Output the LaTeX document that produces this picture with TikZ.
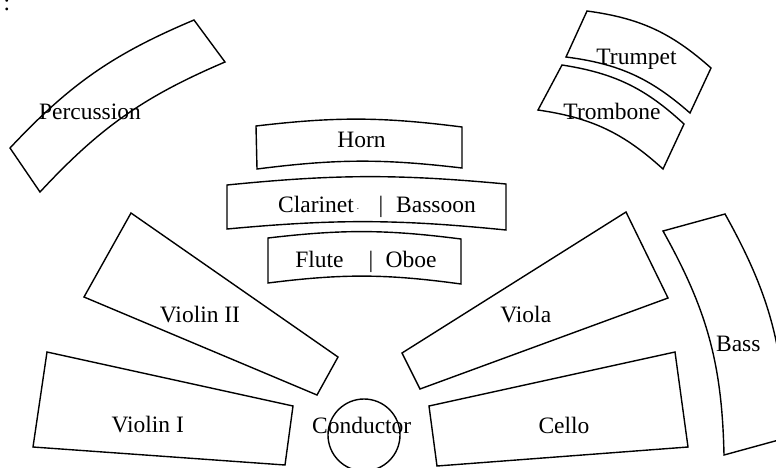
\documentclass[tikz,border=0pt]{standalone}
\usepackage{fontspec}
\setmainfont{Liberation Serif}
\begin{document}
\begin{tikzpicture}[x=1pt,y=1pt,
  band/.style={draw=black,line width=1.4pt,line join=miter},
  lbl/.style={font=\fontsize{23.5}{28}\selectfont,inner sep=0pt,anchor=base}]
\useasboundingbox (0,0) rectangle (776,-467);
\clip (0,0) rectangle (776,-467);

% stray colon in the corner
\node[lbl,anchor=base west] (colon) at (3.4,-10.5) {:};

% percussion band, upper left
\draw[band] (10,-148) to[bend left=12] (194,-20) -- (225,-62)
  to[bend right=12] (40,-192) -- cycle;
\node[lbl] (perc) at (90,-119.3) {Percussion};

% brass, upper right
\draw[band] (587,-11) to[bend left=17] (711,-68) -- (690,-113)
  to[bend right=17] (566,-57) -- cycle;
\node[lbl] (trumpet) at (636.5,-64) {Trumpet};
\draw[band] (562,-65) to[bend left=17] (684,-124) -- (663,-169)
  to[bend right=17] (538,-110) -- cycle;
\node[lbl] (trombone) at (612,-119.3) {Trombone};

% woodwinds and horns, centre rows
\draw[band] (256,-126) to[bend left=7] (462,-127) -- (462,-168)
  to[bend right=7] (257,-169) -- cycle;
\node[lbl] (horn) at (361.5,-147.7) {Horn};

\draw[band] (227,-185) to[bend left=5.5] (506,-184) -- (506,-230)
  to[bend right=5.5] (227,-229) -- cycle;
\node[lbl,anchor=base west] (clarinet) at (278,-212.7)
  {Clarinet\hspace{3pt}\raisebox{3pt}{\fontsize{9}{9}\selectfont .}};
\node[lbl] (cbbar) at (381,-212.7) {|};
\node[lbl] (bassoon) at (436,-212.7) {Bassoon};

\draw[band] (268,-238) to[bend left=7] (461,-239) -- (461,-284)
  to[bend right=7.5] (268,-283) -- cycle;
\node[lbl] (flute) at (319.5,-267.7) {Flute};
\node[lbl] (fobar) at (371,-267.7) {|};
\node[lbl] (oboe) at (411,-267.7) {Oboe};

% strings
\draw[band] (131,-213) -- (338,-357) -- (317,-395) -- (84,-297) -- cycle;
\node[lbl] (violin2) at (200,-322.7) {Violin II};

\draw[band] (47,-352) -- (293,-406) -- (285,-465) -- (33,-447) -- cycle;
\node[lbl] (violin1) at (147.7,-432.3) {Violin I};

\draw[band] (626,-212) -- (668,-298) -- (420,-389) -- (402,-353) -- cycle;
\node[lbl] (viola) at (525.8,-322.7) {Viola};

\draw[band] (429,-406) -- (675,-352) -- (688,-447) -- (437,-466) -- cycle;
\node[lbl] (cello) at (564,-433.3) {Cello};

\draw[band] (663,-231) -- (725,-214) to[bend left=14] (786,-438)
  -- (724,-455) to[bend right=14] cycle;
\node[lbl] (bass) at (738.3,-351) {Bass};

% conductor's podium
\draw[band] (364,-435) circle[radius=36];
\node[lbl] (conductor) at (361.7,-433) {Conductor};
\end{tikzpicture}
\end{document}
